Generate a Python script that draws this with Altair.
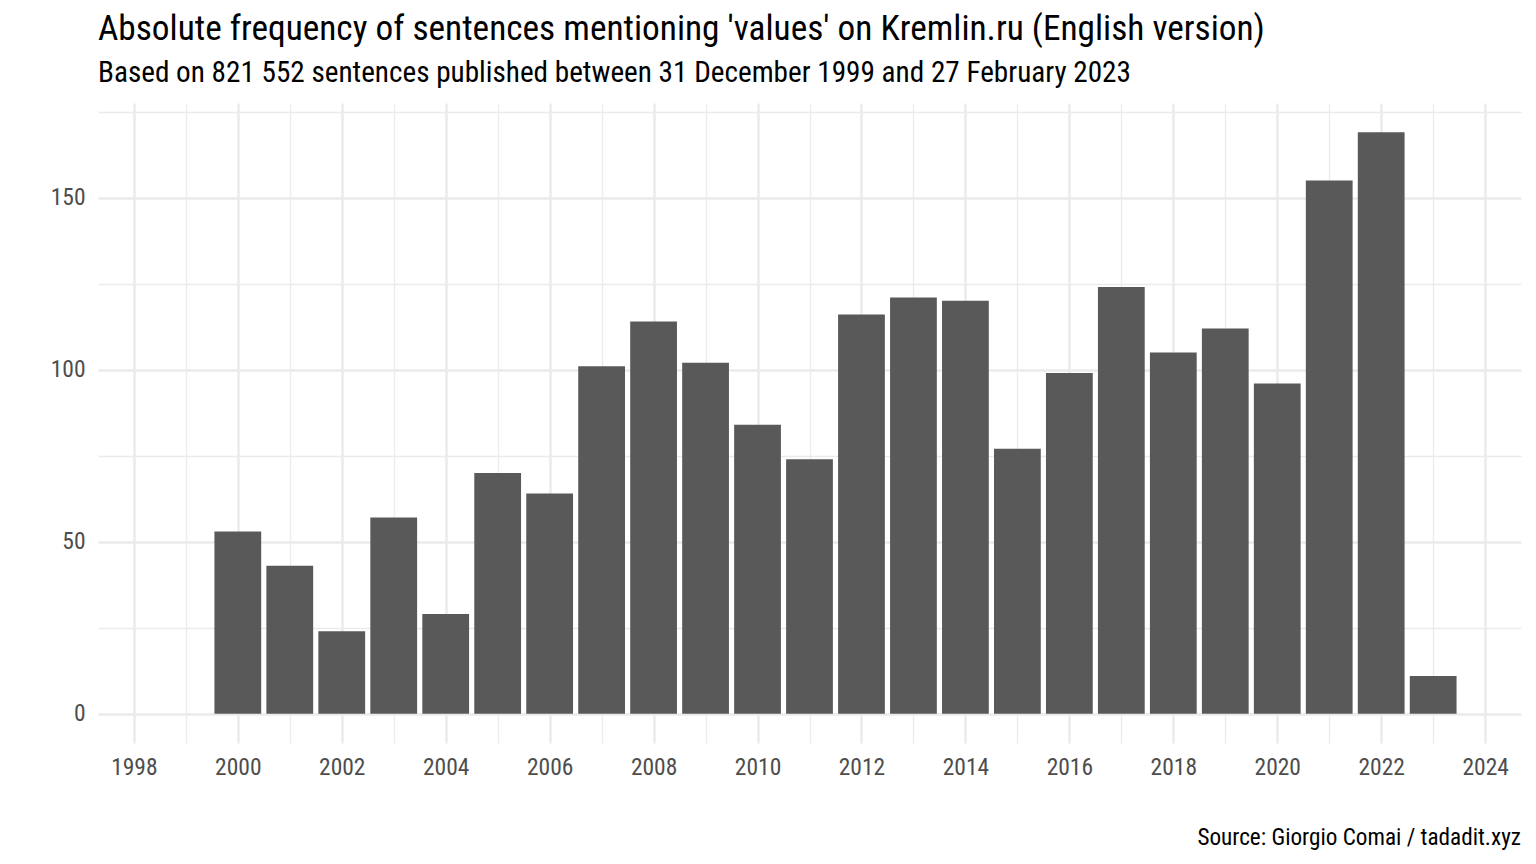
import altair as alt
import pandas as pd

years = list(range(2000, 2024))
counts = [53, 43, 24, 57, 29, 70, 64, 101, 114, 102, 84, 74,
          116, 121, 120, 77, 99, 124, 105, 112, 96, 155, 169, 11]

title_text = "Absolute frequency of sentences mentioning 'values' on Kremlin.ru (English version)"
subtitle_text = "Based on 821 552 sentences published between 31 December 1999 and 27 February 2023"
caption_text = "Source: Giorgio Comai / tadadit.xyz"

x_ticks = list(range(1998, 2025))
y_ticks = [0, 25, 50, 75, 100, 125, 150, 175]

FONT = "Roboto Condensed, Liberation Sans Narrow, DejaVu Sans Condensed, Roboto, sans-serif"

df = pd.DataFrame({"year": years, "n": counts})
df["x0"] = df["year"] - 0.45
df["x1"] = df["year"] + 0.45

W, H = 1423, 640

bars = alt.Chart(df).mark_bar(color="#595959").encode(
    x=alt.X("x0:Q",
            scale=alt.Scale(domain=[1997.31, 2024.69], nice=False, zero=False),
            axis=alt.Axis(values=x_ticks, title=None, format="d",
                          labelExpr="datum.value % 2 == 0 ? datum.label : ''",
                          gridWidth={"condition": {"test": "datum.value % 2 != 0", "value": 1.3}, "value": 2.5})),
    x2="x1:Q",
    y=alt.Y("n:Q",
            scale=alt.Scale(domain=[-8.5, 177.5], nice=False, zero=False),
            axis=alt.Axis(values=y_ticks, title=None,
                          labelExpr="datum.value % 50 == 0 ? datum.label : ''",
                          gridWidth={"condition": {"test": "datum.value % 50 != 0", "value": 1.3}, "value": 2.5})),
    y2=alt.datum(0),
)

caption = alt.Chart(pd.DataFrame({"t": [caption_text]})).mark_text(
    align="right", baseline="alphabetic", font=FONT, fontSize=23.2, color="#000000"
).encode(
    x=alt.value(W), y=alt.value(742), text="t:N"
)

chart = alt.layer(bars, caption).properties(
    width=W, height=H,
    title=alt.TitleParams(
        text=title_text, subtitle=subtitle_text,
        anchor="start", frame="group",
        font=FONT, fontSize=35.3, fontWeight="normal", color="#000000",
        subtitleFont=FONT, subtitleFontSize=29.2, subtitleColor="#000000",
        subtitlePadding=12, offset=15,
    ),
    autosize=alt.AutoSizeParams(type="none"),
    padding={"left": 90, "top": 95, "right": 7, "bottom": 115},
    background="#ffffff",
).configure_view(stroke=None).configure_axis(
    domain=False, ticks=False, gridColor="#ebebeb",
    labelFont=FONT, labelFontSize=23.5, labelColor="#4d4d4d",
).configure_axisX(labelPadding=12).configure_axisY(labelPadding=13)

chart.save("out.html", embed_options={"renderer": "svg", "actions": False})
